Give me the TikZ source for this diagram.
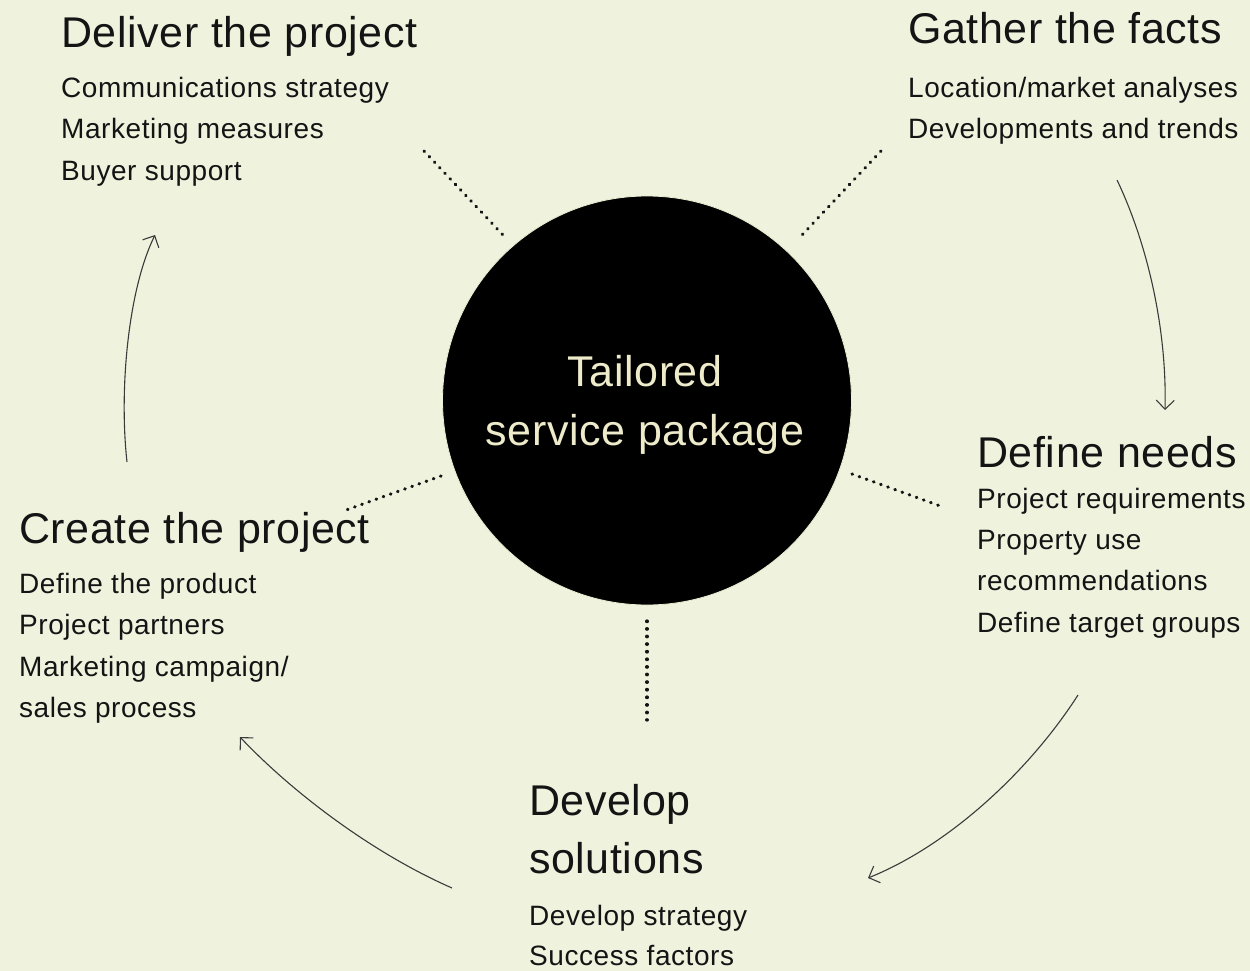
\documentclass[tikz,border=0pt]{standalone}
\usepackage{fontspec}
\setmainfont{Liberation Sans}
\newfontfamily\itemfont{Liberation Sans}[LetterSpace=2.0]
\newfontfamily\headfont{Liberation Sans}[LetterSpace=1.4]
\usetikzlibrary{arrows.meta}
\definecolor{bg}{HTML}{EFF3DE}
\definecolor{ink}{HTML}{141414}
\definecolor{cream}{HTML}{EEEBCB}
\definecolor{flowgray}{HTML}{3A3A3A}
\tikzset{
  headtxt/.style={anchor=base west, inner sep=0pt, text=ink, font=\headfont\fontsize{43}{43}\selectfont},
  itemtxt/.style={anchor=base west, inner sep=0pt, text=ink, font=\itemfont\fontsize{28}{28}\selectfont},
  hubtxt/.style={anchor=base, inner sep=0pt, text=cream, font=\headfont\fontsize{43}{43}\selectfont},
  dotline/.style={draw=ink, line width=3.2pt, line cap=round, dash pattern=on 0.6pt off 7pt},
  flow/.style={draw=flowgray, line width=1.1pt, -{Straight Barb[length=9pt,width=18pt]}}
}
\begin{document}
\begin{tikzpicture}[x=1pt,y=-1pt]
\fill[bg] (0,0) rectangle (1250,971);
\useasboundingbox (0,0) rectangle (1250,971);

% hub
\node[circle, minimum size=409pt, inner sep=0pt, fill=black, draw=cream!60!bg, line width=0.8pt] (hub) at (647,400.5) {};
\node[hubtxt] (hubA) at (645,386) {Tailored};
\node[hubtxt] (hubB) at (645,445) {service package};

% Deliver the project
\node[headtxt] (delH) at (61,48) {Deliver the project};
\node[itemtxt] (del1) at (61,98) {Communications strategy};
\node[itemtxt] (del2) at (61,139) {Marketing measures};
\node[itemtxt] (del3) at (61,180) {Buyer support};

% Gather the facts
\node[headtxt] (gatH) at (908,44) {Gather the facts};
\node[itemtxt] (gat1) at (908,98) {Location/market analyses};
\node[itemtxt] (gat2) at (908,139) {Developments and trends};

% Define needs
\node[headtxt] (defH) at (977,467) {Define needs};
\node[itemtxt] (def1) at (977,508) {Project requirements};
\node[itemtxt] (def2) at (977,549) {Property use};
\node[itemtxt] (def3) at (977,590) {recommendations};
\node[itemtxt] (def4) at (977,632) {Define target groups};

% Develop solutions
\node[headtxt] (devH1) at (529,815) {Develop};
\node[headtxt] (devH2) at (529,873) {solutions};
\node[itemtxt] (dev1) at (529,925) {Develop strategy};
\node[itemtxt] (dev2) at (529,965) {Success factors};

% Create the project
\node[headtxt] (creH) at (19,543) {Create the project};
\node[itemtxt] (cre1) at (19,593) {Define the product};
\node[itemtxt] (cre2) at (19,634) {Project partners};
\node[itemtxt] (cre3) at (19,676) {Marketing campaign/};
\node[itemtxt] (cre4) at (19,717) {sales process};

% dotted rays
\coordinate (rTLa) at (424,151); \coordinate (rTLb) at (503,235);
\coordinate (rTRa) at (881,151); \coordinate (rTRb) at (802,235);
\coordinate (rRa) at (852,474);  \coordinate (rRb) at (943,507);
\coordinate (rBa) at (647,621);  \coordinate (rBb) at (647,720);
\coordinate (rLa) at (441,476);  \coordinate (rLb) at (346,510);
\draw[dotline] (rTLa) -- (rTLb);
\draw[dotline] (rTRa) -- (rTRb);
\draw[dotline] (rRa) -- (rRb);
\draw[dotline] (rBa) -- (rBb);
\draw[dotline] (rLa) -- (rLb);

% cycle arrows
\coordinate (a1s) at (1117,180); \coordinate (a1e) at (1165,410);
\coordinate (a2s) at (1078,695); \coordinate (a2e) at (868,878);
\coordinate (a3s) at (452,888);  \coordinate (a3e) at (240,737);
\coordinate (a4s) at (127,462);  \coordinate (a4e) at (155,235);
\draw[flow] (a1s) .. controls (1148,245) and (1167,330) .. (a1e);
\draw[flow] (a2s) .. controls (1030,770) and (950,845) .. (a2e);
\draw[flow] (a3s) .. controls (370,852) and (290,790) .. (a3e);
\draw[flow] (a4s) .. controls (119,390) and (128,290) .. (a4e);
\end{tikzpicture}
\end{document}
